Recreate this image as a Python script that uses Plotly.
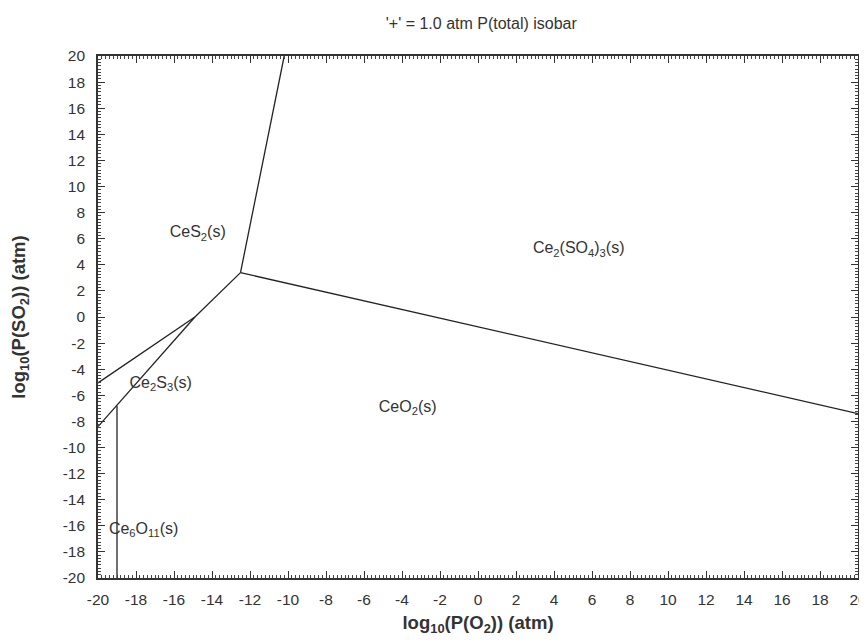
import plotly.graph_objects as go

# Phase boundary lines (log10 P(O2), log10 P(SO2))
ces2_ce2so43_x = [-12.5, -10.2]
ces2_ce2so43_y = [3.4, 20.0]
ceo2_ce2so43_x = [-12.5, 20.0]
ceo2_ce2so43_y = [3.4, -7.4]
ces2_ceo2_x = [-14.9, -12.5]
ces2_ceo2_y = [0.0, 3.4]
ces2_ce2s3_x = [-20.0, -14.9]
ces2_ce2s3_y = [-5.05, 0.0]
ce2s3_ceo2_x = [-20.0, -14.9]
ce2s3_ceo2_y = [-8.4, 0.0]
ce6o11_ceo2_x = [-19.0, -19.0]
ce6o11_ceo2_y = [-20.0, -6.8]

# Region labels
label_text = ["CeS<sub>2</sub>(s)", "Ce<sub>2</sub>(SO<sub>4</sub>)<sub>3</sub>(s)",
              "Ce<sub>2</sub>S<sub>3</sub>(s)", "CeO<sub>2</sub>(s)",
              "Ce<sub>6</sub>O<sub>11</sub>(s)"]
label_x = [-14.75, 5.3, -16.7, -3.7, -17.6]
label_y = [6.4, 5.2, -5.1, -6.95, -16.3]

tick_vals = list(range(-20, 21, 2))

FONT = "Liberation Sans, Arial"
INK = "#333333"

fig = go.Figure()
lines = [
    (ces2_ce2so43_x, ces2_ce2so43_y),
    (ceo2_ce2so43_x, ceo2_ce2so43_y),
    (ces2_ceo2_x, ces2_ceo2_y),
    (ces2_ce2s3_x, ces2_ce2s3_y),
    (ce2s3_ceo2_x, ce2s3_ceo2_y),
    (ce6o11_ceo2_x, ce6o11_ceo2_y),
]
for lx, ly in lines:
    fig.add_trace(go.Scatter(x=lx, y=ly, mode="lines",
                             line=dict(color="#222222", width=1.3),
                             showlegend=False, hoverinfo="skip"))

fig.add_trace(go.Scatter(x=label_x, y=label_y, mode="text", text=label_text,
                         textfont=dict(family=FONT, size=16, color=INK),
                         showlegend=False, hoverinfo="skip"))

axis_common = dict(
    range=[-20, 20], tickvals=tick_vals, ticktext=[str(v) for v in tick_vals],
    ticks="inside", ticklen=7, tickwidth=1, tickcolor=INK,
    showline=True, linecolor=INK, linewidth=1.6, mirror="allticks",
    showgrid=False, zeroline=False, automargin=False,
    tickfont=dict(family=FONT, size=15.5, color=INK),
)

# page body has an 8px margin, so the figure is sized to fit the 867x644 window
fig.update_layout(
    width=859, height=628,
    margin=dict(l=90, r=9, t=48, b=58),
    paper_bgcolor="white", plot_bgcolor="white",
    title=dict(text="'+' = 1.0 atm P(total) isobar", x=0.551, xanchor="center",
               y=1 - 15 / 628, yanchor="middle",
               font=dict(family=FONT, size=16, color=INK)),
    xaxis=dict(**axis_common, ticklabelstandoff=7,
               minor=dict(dtick=0.2, ticks="inside", ticklen=3, tickcolor="#444444", showgrid=False),
               title=dict(text="<b>log<sub>10</sub>(P(O<sub>2</sub>)) (atm)</b>", standoff=12,
                          font=dict(family=FONT, size=18.5, color=INK))),
    yaxis=dict(**axis_common, ticklabelstandoff=8,
               minor=dict(dtick=0.25, ticks="inside", ticklen=3, tickcolor="#444444", showgrid=False),
               title=dict(text="<b>log<sub>10</sub>(P(SO<sub>2</sub>)) (atm)</b>", standoff=33,
                          font=dict(family=FONT, size=18.5, color=INK))),
)

fig.write_html("out.html")
